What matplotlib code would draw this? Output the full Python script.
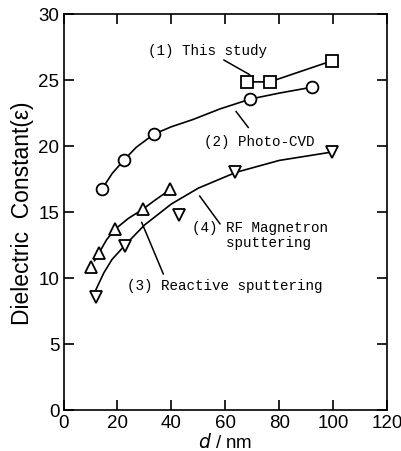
#!/usr/bin/env python3

import matplotlib
matplotlib.use('Agg')
import matplotlib.pyplot as plt

# (1) This study
d1   = [68.0, 76.5, 99.6]
eps1 = [24.85, 24.85, 26.45]

# (2) Photo-CVD
d2   = [14.2, 22.5, 33.6, 69.3, 92.2]
eps2 = [16.7, 18.95, 20.9, 23.55, 24.45]
# curve drawn through them
c2x = [14.2, 18.0, 22.5, 27.0, 33.6, 40.0, 48.0, 58.0, 69.3, 80.0, 92.2]
c2y = [16.7, 17.9, 18.95, 19.9, 20.9, 21.45, 22.0, 22.8, 23.55, 24.0, 24.45]

# (3) Reactive sputtering
d3   = [10.3, 13.2, 19.2, 29.4, 39.6]
eps3 = [10.8, 11.9, 13.7, 15.2, 16.7]
c3x = [11.5, 13.2, 16.0, 19.2, 24.0, 29.4, 34.0, 39.6]
c3y = [11.3, 11.9, 12.9, 13.7, 14.5, 15.2, 15.9, 16.7]

# (4) RF Magnetron sputtering
d4   = [12.0, 22.9, 42.7, 63.7, 99.6]
eps4 = [8.57, 12.38, 14.76, 18.0, 19.5]
c4x = [12.0, 15.0, 18.0, 22.9, 30.0, 40.0, 50.0, 64.0, 80.0, 100.0]
c4y = [9.1, 10.4, 11.4, 12.5, 14.0, 15.6, 16.8, 18.0, 18.9, 19.55]

xticks = [0, 20, 40, 60, 80, 100, 120]
yticks = [0, 5, 10, 15, 20, 25, 30]

sans = ['Liberation Sans', 'DejaVu Sans']
mono = ['Liberation Mono', 'DejaVu Sans Mono']

fig = plt.figure(figsize=(4.02, 4.52), dpi=100)
ax = fig.add_axes([0.158, 0.091, 0.805, 0.876])

mk = dict(markerfacecolor='white', markeredgecolor='black', markeredgewidth=1.3, color='black')

ax.plot(d1, eps1, '-s', lw=1.2, markersize=8, **mk)
ax.plot(c2x, c2y, '-', color='black', lw=1.2)
ax.plot(d2, eps2, 'o', markersize=8.5, **mk)
ax.plot(c3x, c3y, '-', color='black', lw=1.2)
ax.plot(d3, eps3, '^', markersize=8.5, **mk)
ax.plot(c4x, c4y, '-', color='black', lw=1.2)
ax.plot(d4, eps4, 'v', markersize=8.5, **mk)

ax.set_xlim(0, 120)
ax.set_ylim(0, 30)
ax.set_xticks(xticks)
ax.set_yticks(yticks)
ax.tick_params(direction='in', length=7, width=1.2, top=True, right=True,
               labelsize=13.5, pad=3)
for lab in ax.get_xticklabels() + ax.get_yticklabels():
    lab.set_family(sans)
for s in ax.spines.values():
    s.set_linewidth(1.2)

ax.set_xlabel('$d$ / nm', fontsize=13.5, family=sans, labelpad=1)
ax.set_ylabel('Dielectric  Constant(ε)', fontsize=16.5, family=sans, labelpad=3)

ln = dict(color='black', lw=1.1)
ax.text(53.5, 27.3, '(1) This study', family=mono, fontsize=10.3, ha='center', va='center')
ax.plot([59.5, 69.0], [26.5, 25.4], **ln)
ax.text(72.5, 20.4, '(2) Photo-CVD', family=mono, fontsize=10.3, ha='center', va='center')
ax.plot([68.5, 64.0], [21.4, 22.6], **ln)
ax.text(59.7, 9.45, '(3) Reactive sputtering', family=mono, fontsize=10.3, ha='center', va='center')
ax.plot([37.0, 29.0], [10.3, 14.2], **ln)
ax.text(47.5, 13.3, '(4) RF Magnetron\n    sputtering', family=mono, fontsize=10.3,
        ha='left', va='center', linespacing=1.1)
ax.plot([58.0, 50.5], [14.1, 16.2], **ln)

plt.savefig('out.png', dpi=100)
